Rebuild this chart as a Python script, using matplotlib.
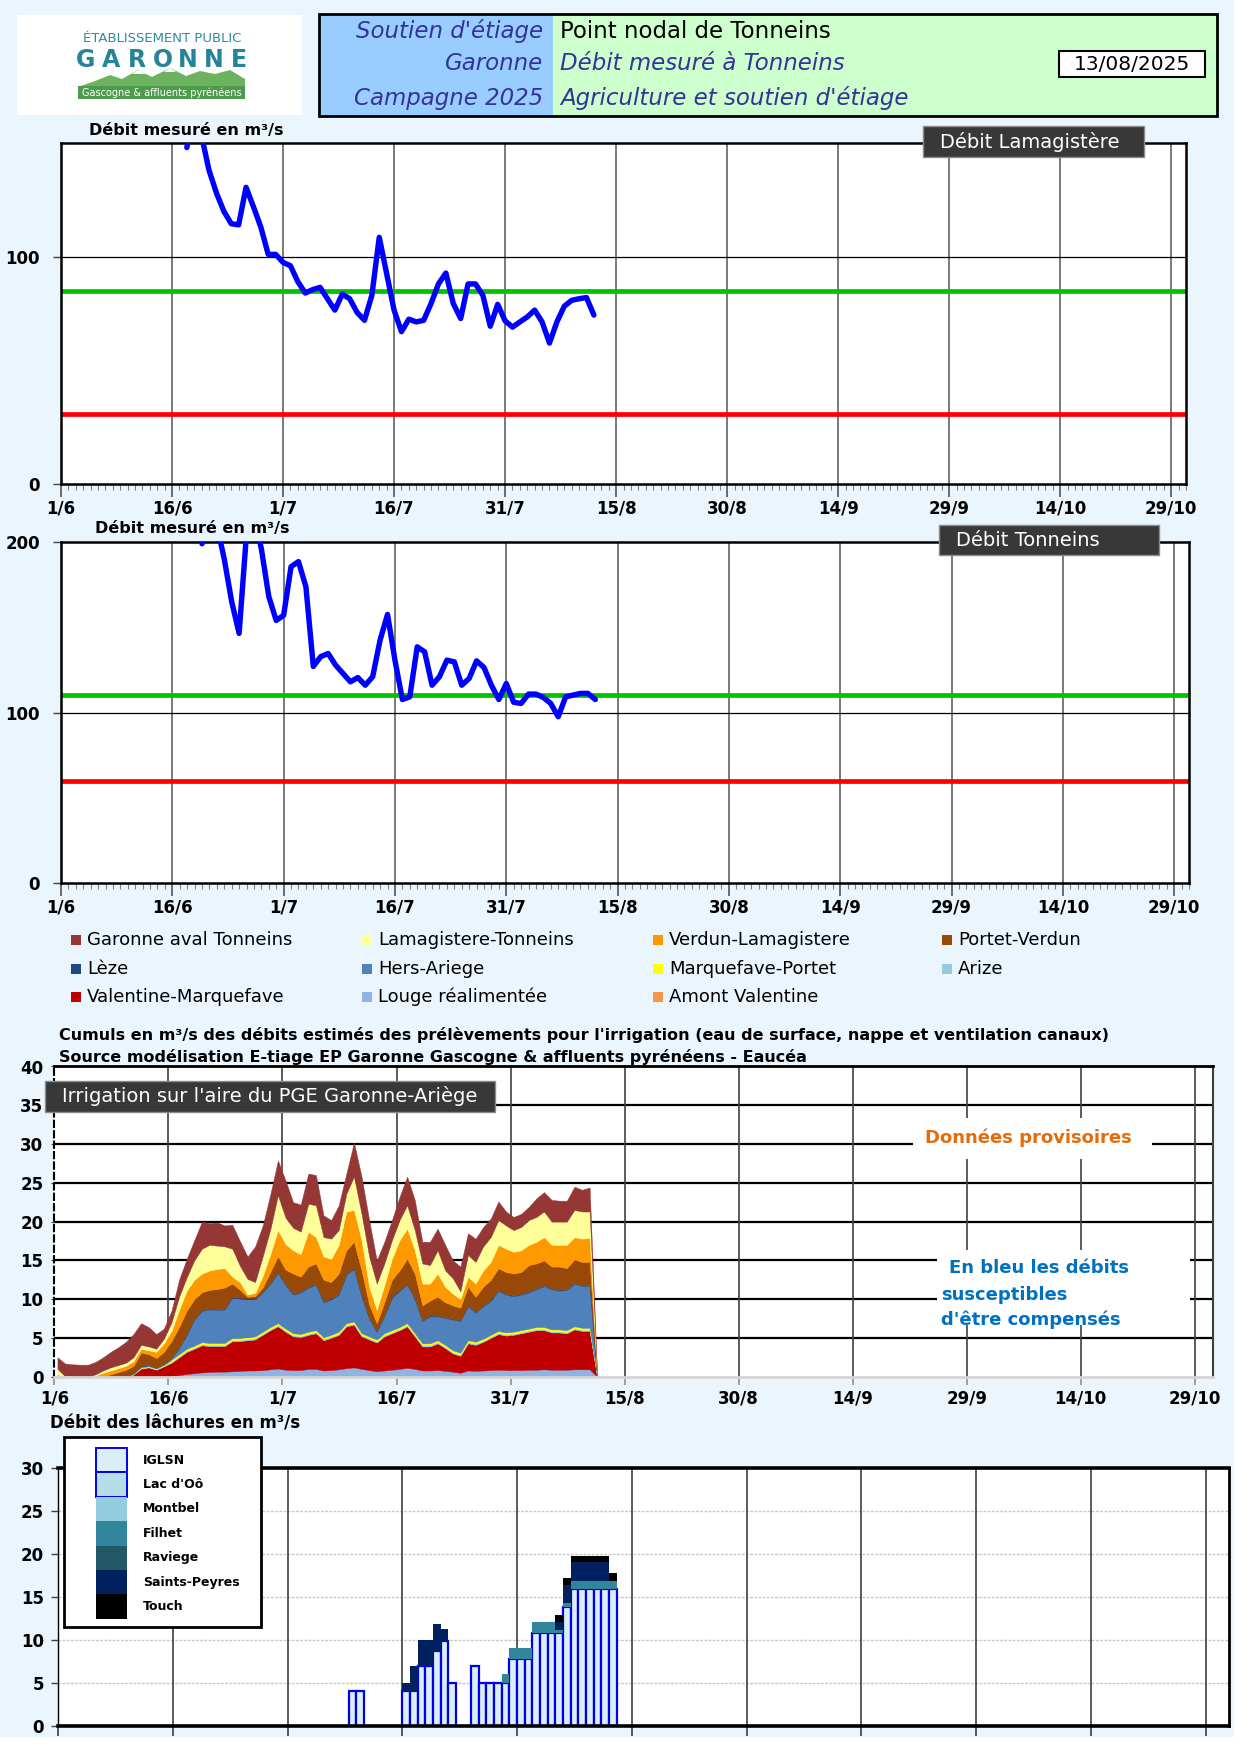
import numpy as np
import matplotlib
matplotlib.use('Agg')
import matplotlib.pyplot as plt
from matplotlib.patches import Rectangle, Polygon
from matplotlib.ticker import MultipleLocator

plt.rcParams['font.family'] = ['DejaVu Sans']

# ---------------------------------------------------------------- data
tick_labels = ['1/6', '16/6', '1/7', '16/7', '31/7', '15/8', '30/8', '14/9', '29/9', '14/10', '29/10']
tick_days = [0, 15, 30, 45, 60, 75, 90, 105, 120, 135, 150]

# Débit Lamagistère (day 0 = 1 June)
lama_days = list(range(17, 73))
lama_flow = [148, 165, 153, 138, 128, 120, 114.5, 114, 130.5, 122, 113, 101, 101, 97.5, 96, 89,
             84, 85.5, 86.5, 81.5, 76.5, 83.5, 81.5, 75.5, 72, 83, 108.5, 92.5, 76.5, 67, 72.5,
             71.3, 72, 79.4, 88, 92.8, 79.4, 72.8, 88, 88, 83, 69.4, 79, 71.8, 69, 71.3, 73.5,
             76.5, 71.3, 62, 71.3, 78.2, 80.8, 81.5, 82, 74.3]
lama_objectif = 85
lama_crise = 31

# Débit Tonneins
ton_days = list(range(19, 73))
ton_flow = [199, 212, 210, 190, 165, 146.4, 205, 215, 196, 168, 154, 157, 185.5, 188.5, 173.8,
            127, 132.8, 134.6, 127.8, 122.9, 118, 120.5, 116, 121, 142.5, 157.5, 130.7, 107.6,
            109.2, 138.5, 135.6, 116, 121, 130.7, 129.7, 116, 120, 130.3, 126.4, 116, 107.6, 117,
            106, 105.3, 110.8, 110.8, 108.8, 105.3, 97.5, 109.2, 110.2, 111.2, 111.2, 107.6]
ton_objectif = 110
ton_crise = 60

# Irrigation : cumulative tops of the stacked layers (m3/s), day 0..71
irr_days = list(range(0, 72))
top_garonne_aval = [2.5, 1.7, 1.6, 1.55, 1.55, 1.9, 2.5, 3.2, 3.8, 4.5, 5.5, 6.9,
                    6.4, 5.5, 6.2, 8.5, 12.5, 15.2, 17.6, 20.0, 19.8, 19.9, 19.5, 19.6,
                    17.5, 15.5, 16.8, 19.5, 23.5, 27.9, 25.3, 22.5, 22.2, 26.2, 26.0, 20.8,
                    20.2, 22.1, 26.2, 30.2, 25.8, 20.2, 15.0, 17.4, 20.2, 23.2, 25.8, 22.8,
                    17.4, 17.4, 19.1, 17.0, 15.0, 14.2, 18.5, 17.8, 19.3, 20.4, 22.6, 21.3,
                    20.6, 21.0, 21.9, 23.0, 23.8, 22.8, 22.7, 22.7, 24.5, 24.1, 24.4, 0]
top_lamagistere_tonneins = [1.0, 0.05, 0, 0, 0, 0.3, 0.8, 1.2, 1.5, 1.8, 2.5, 4.1,
                            3.9, 3.6, 4.9, 7.0, 10.3, 12.8, 15.0, 16.5, 17.0, 16.9, 16.8, 16.5,
                            14.3, 12.6, 12.2, 15.5, 19.0, 23.4, 20.5, 19.2, 18.7, 22.3, 22.1, 18.0,
                            17.8, 18.9, 23.6, 25.8, 21.0, 15.5, 12.0, 14.6, 17.6, 20.2, 22.1, 18.9,
                            14.6, 14.4, 16.3, 13.7, 12.7, 11.0, 15.7, 14.8, 16.8, 18.0, 20.2, 19.5,
                            18.9, 19.3, 20.2, 20.6, 21.3, 20.0, 20.0, 20.0, 21.5, 21.3, 21.3, 0]
top_verdun_lamagistere = [0.3, 0, 0, 0, 0, 0.15, 0.5, 0.8, 1.1, 1.4, 2.0, 3.6,
                          3.4, 3.2, 4.3, 5.9, 8.6, 11.1, 12.5, 13.3, 13.7, 13.9, 14.0, 12.9,
                          12.2, 10.6, 10.8, 13.0, 15.8, 18.9, 17.1, 16.3, 15.8, 18.7, 18.0, 15.5,
                          15.2, 17.0, 21.3, 21.5, 17.6, 11.6, 8.6, 11.8, 15.2, 17.6, 19.1, 16.3,
                          12.0, 12.0, 13.3, 11.6, 10.7, 10.0, 12.9, 12.0, 13.7, 14.8, 17.0, 16.5,
                          16.1, 16.3, 17.0, 17.4, 18.0, 17.0, 17.0, 17.0, 18.0, 17.8, 17.9, 0]
top_portet_verdun = [0, 0, 0, 0, 0, 0, 0.1, 0.3, 0.6, 0.9, 1.4, 3.1,
                     2.9, 2.4, 3.2, 4.6, 6.4, 8.5, 10.0, 10.9, 11.2, 11.3, 11.5, 12.0,
                     11.2, 10.3, 10.4, 11.5, 13.5, 15.5, 13.8, 13.3, 12.9, 14.2, 14.6, 12.5,
                     12.2, 13.3, 16.3, 17.4, 13.7, 9.3, 6.9, 9.6, 12.5, 13.7, 15.2, 13.3,
                     9.2, 9.8, 10.3, 9.6, 9.2, 8.9, 11.6, 10.3, 11.6, 12.5, 14.0, 13.5,
                     13.3, 13.5, 14.4, 14.6, 15.0, 14.2, 14.2, 14.0, 15.1, 14.8, 14.8, 0]
top_leze = [0, 0, 0, 0, 0, 0, 0, 0, 0, 0.05, 0.5, 1.4,
            1.5, 1.2, 1.7, 2.5, 3.8, 5.5, 7.5, 8.6, 8.8, 8.7, 8.8, 10.3,
            10.2, 10.1, 10.1, 11.0, 12.1, 13.5, 11.9, 10.7, 11.0, 11.6, 12.0, 9.7,
            10.1, 10.7, 13.3, 14.0, 10.5, 7.6, 5.9, 8.0, 10.3, 11.2, 12.0, 10.1,
            7.3, 7.9, 7.9, 7.7, 7.5, 7.3, 9.2, 8.4, 9.2, 9.9, 11.2, 10.7,
            10.5, 10.7, 11.0, 11.4, 11.8, 11.4, 11.2, 11.3, 12.1, 11.8, 11.8, 0]
top_marquefave_portet = [0, 0, 0, 0, 0, 0, 0, 0, 0, 0, 0.35, 1.2,
                         1.35, 1.05, 1.5, 2.2, 2.9, 3.6, 4.0, 4.45, 4.35, 4.35, 4.35, 5.0,
                         5.0, 5.1, 5.2, 5.8, 6.4, 6.9, 6.2, 5.6, 5.5, 5.8, 6.0, 5.1,
                         5.4, 5.8, 6.9, 7.1, 5.6, 5.2, 4.8, 5.6, 6.0, 6.4, 6.9, 5.6,
                         4.3, 4.3, 4.7, 4.1, 3.4, 3.1, 4.7, 4.5, 4.9, 5.4, 5.9, 5.7,
                         5.8, 6.0, 6.2, 6.4, 6.4, 6.1, 6.1, 6.0, 6.5, 6.3, 6.3, 0]
top_louge = [0, 0, 0, 0, 0, 0, 0, 0, 0, 0, 0, 0,
             0, 0, 0, 0.1, 0.2, 0.35, 0.45, 0.55, 0.6, 0.65, 0.65, 0.7,
             0.75, 0.8, 0.8, 0.85, 0.95, 1.05, 0.9, 0.85, 0.85, 1.0, 1.0, 0.8,
             0.85, 0.95, 1.1, 1.2, 1.0, 0.85, 0.7, 0.8, 0.9, 1.0, 1.15, 1.0,
             0.8, 0.8, 0.85, 0.75, 0.65, 0.5, 0.8, 0.75, 0.8, 0.85, 0.9, 0.85,
             0.85, 0.85, 0.9, 0.9, 0.95, 0.9, 0.9, 0.9, 0.95, 0.95, 0.95, 0]
# thin layers (thickness, m3/s)
marquefave_th = [0, 0, 0, 0, 0, 0, 0, 0, 0, 0, 0.05, 0.1,
                 0.1, 0.1, 0.1, 0.25, 0.25, 0.25, 0.25, 0.25, 0.25, 0.25, 0.25, 0.25,
                 0.25, 0.25, 0.25, 0.25, 0.25, 0.25, 0.25, 0.25, 0.25, 0.25, 0.25, 0.25,
                 0.25, 0.25, 0.25, 0.25, 0.25, 0.25, 0.25, 0.25, 0.25, 0.25, 0.25, 0.25,
                 0.25, 0.25, 0.25, 0.25, 0.25, 0.25, 0.25, 0.25, 0.25, 0.25, 0.25, 0.25,
                 0.25, 0.25, 0.25, 0.25, 0.25, 0.25, 0.25, 0.25, 0.25, 0.25, 0.25, 0]
arize_th = [0, 0, 0, 0, 0, 0, 0, 0, 0, 0, 0, 0.05,
            0.05, 0.05, 0.05, 0.15, 0.15, 0.15, 0.15, 0.15, 0.15, 0.15, 0.15, 0.15,
            0.15, 0.15, 0.15, 0.15, 0.15, 0.15, 0.15, 0.15, 0.15, 0.15, 0.15, 0.15,
            0.15, 0.15, 0.15, 0.15, 0.15, 0.15, 0.15, 0.15, 0.15, 0.15, 0.15, 0.15,
            0.15, 0.15, 0.15, 0.15, 0.15, 0.15, 0.15, 0.15, 0.15, 0.15, 0.15, 0.15,
            0.15, 0.15, 0.15, 0.15, 0.15, 0.15, 0.15, 0.15, 0.15, 0.15, 0.15, 0]
leze_th = [0, 0, 0, 0, 0, 0, 0, 0, 0, 0, 0.05, 0.05,
           0.05, 0.05, 0.05, 0.12, 0.12, 0.12, 0.12, 0.12, 0.12, 0.12, 0.12, 0.12,
           0.12, 0.12, 0.12, 0.12, 0.12, 0.12, 0.12, 0.12, 0.12, 0.12, 0.12, 0.12,
           0.12, 0.12, 0.12, 0.12, 0.12, 0.12, 0.12, 0.12, 0.12, 0.12, 0.12, 0.12,
           0.12, 0.12, 0.12, 0.12, 0.12, 0.12, 0.12, 0.12, 0.12, 0.12, 0.12, 0.12,
           0.12, 0.12, 0.12, 0.12, 0.12, 0.12, 0.12, 0.12, 0.12, 0.12, 0.12, 0]
amont_th = [0, 0, 0, 0, 0, 0, 0, 0, 0, 0, 0, 0,
            0, 0, 0, 0, 0, 0.08, 0.08, 0.08, 0.08, 0.08, 0.08, 0.08,
            0.08, 0.08, 0.08, 0.08, 0.08, 0.08, 0.08, 0.08, 0.08, 0.08, 0.08, 0.08,
            0.08, 0.08, 0.08, 0.08, 0.08, 0.08, 0.08, 0.08, 0.08, 0.08, 0.08, 0.08,
            0.08, 0.08, 0.08, 0.08, 0.08, 0.08, 0.08, 0.08, 0.08, 0.08, 0.08, 0.08,
            0.08, 0.08, 0.08, 0.08, 0.08, 0.08, 0.08, 0.08, 0.08, 0.08, 0.08, 0]

irr_names = ['Garonne aval Tonneins', 'Lamagistere-Tonneins', 'Verdun-Lamagistere', 'Portet-Verdun',
             'Lèze', 'Hers-Ariege', 'Marquefave-Portet', 'Arize',
             'Valentine-Marquefave', 'Louge réalimentée', 'Amont Valentine']
irr_colors = {'Garonne aval Tonneins': '#953735', 'Lamagistere-Tonneins': '#FFFF99',
              'Verdun-Lamagistere': '#FF9900', 'Portet-Verdun': '#984807',
              'Lèze': '#1F497D', 'Hers-Ariege': '#4F81BD', 'Marquefave-Portet': '#FFFF00',
              'Arize': '#93CDDD', 'Valentine-Marquefave': '#C00000',
              'Louge réalimentée': '#8DB4E2', 'Amont Valentine': '#F79646'}

# Lâchures (m3/s), day 38..72
rel_days = list(range(38, 73))
rel_iglsn = [4, 4, 0, 0, 0, 0, 0, 4, 4, 7, 7, 8.7, 9.9, 5, 0, 0, 7, 5, 5, 5, 5, 7.8, 7.8, 7.8,
             10.8, 10.8, 10.8, 10.8, 13.8, 15.9, 15.9, 15.9, 15.9, 15.9, 15.9]
rel_lac_oo = [0, 0, 0, 0, 0, 0, 0, 0, 0, 0, 0, 0, 0, 0, 0, 0, 0, 0, 0, 0, 0, 0, 0, 0,
              0, 0, 0, 0, 0, 0, 0, 0, 0, 0, 0]
rel_montbel = [0, 0, 0, 0, 0, 0, 0, 0, 0, 0, 0, 0, 0, 0, 0, 0, 0, 0, 0, 0, 0, 0, 0, 0,
               0, 0, 0, 0, 0, 0, 0, 0, 0, 0, 0]
rel_filhet = [0, 0, 0, 0, 0, 0, 0, 0, 0, 0, 0, 0, 0, 0, 0, 0, 0, 0, 0, 0, 1.0, 1.3, 1.3, 1.3,
              1.3, 1.3, 1.3, 0.3, 0.45, 1.0, 1.0, 1.0, 1.0, 1.0, 1.0]
rel_raviege = [0, 0, 0, 0, 0, 0, 0, 0, 0, 0, 0, 0, 0, 0, 0, 0, 0, 0, 0, 0, 0, 0, 0, 0,
               0, 0, 0, 0, 0, 0, 0, 0, 0, 0, 0]
rel_saints_peyres = [0, 0, 0, 0, 0, 0, 0, 1.0, 3.0, 3.0, 3.0, 3.1, 1.35, 0, 0, 0, 0, 0, 0, 0,
                     0, 0, 0, 0, 0, 0, 0, 1.0, 2.15, 2.1, 2.1, 2.1, 2.1, 2.1, 0]
rel_touch = [0, 0, 0, 0, 0, 0, 0, 0, 0, 0, 0, 0, 0, 0, 0, 0, 0, 0, 0, 0, 0, 0, 0, 0,
             0, 0, 0, 0.75, 0.75, 0.75, 0.75, 0.75, 0.75, 0.75, 0.85]
rel_names = ['IGLSN', "Lac d'Oô", 'Montbel', 'Filhet', 'Raviege', 'Saints-Peyres', 'Touch']
rel_colors = ['#DCEEF5', '#B7DDE8', '#93CDDD', '#31859C', '#215967', '#002060', '#000000']

# ---------------------------------------------------------------- figure
W, H = 1240, 1754
fig = plt.figure(figsize=(W / 100, H / 100), dpi=100)
fig.patch.set_facecolor('white')
BG = '#EAF5FD'
fig.patches.append(Rectangle((0, 1 - 1737 / H), 1234 / W, 1737 / H, transform=fig.transFigure,
                             facecolor=BG, edgecolor='none', zorder=-10))


def px_axes(l, t, r, b):
    return fig.add_axes([l / W, 1 - b / H, (r - l) / W, (b - t) / H])


def flow_panel(ax, days, flow, obj, crise, ymax, yticks):
    ax.set_xlim(0, 152)
    ax.set_ylim(0, ymax)
    ax.set_facecolor('white')
    for d in tick_days:
        ax.axvline(d, color='#555555', lw=1.1, zorder=1)
    ax.axhline(100, color='black', lw=0.9, zorder=1)
    ax.axhline(obj, color='#00C400', lw=3.4, zorder=2)
    ax.axhline(crise, color='#FF0000', lw=3.4, zorder=2)
    ax.plot(days, flow, color='#0000FF', lw=3.9, solid_joinstyle='round',
            solid_capstyle='round', zorder=3)
    ax.set_xticks(tick_days, tick_labels, fontsize=12, fontweight='bold')
    ax.xaxis.set_minor_locator(MultipleLocator(1))
    ax.tick_params(axis='x', which='major', direction='out', length=9, width=1.3,
                   color='#606060', pad=2)
    ax.tick_params(axis='x', which='minor', direction='out', length=4, width=0.8,
                   color='#808080')
    ax.set_yticks(yticks, [str(v) for v in yticks], fontsize=12, fontweight='bold')
    ax.tick_params(axis='y', direction='out', length=6, width=1, color='#404040', pad=9)
    for s in ax.spines.values():
        s.set_color('black')
        s.set_linewidth(1.8)


ax1 = px_axes(61, 143, 1186, 484)
flow_panel(ax1, lama_days, lama_flow, lama_objectif, lama_crise, 150, [0, 100])

ax2 = px_axes(61, 542, 1189, 883)
flow_panel(ax2, ton_days, ton_flow, ton_objectif, ton_crise, 200, [0, 100, 200])

# ---------------- irrigation stacked areas
ax3 = px_axes(54.4, 1066.5, 1213, 1376.7)
ax3.set_xlim(0, 152.4)
ax3.set_ylim(0, 40)
ax3.set_facecolor('white')
for v in range(5, 40, 5):
    ax3.axhline(v, color='black', lw=1.6, zorder=0.5)
for d in tick_days[1:]:
    ax3.axvline(d, color='#404040', lw=1.2, zorder=0.5)

xi = np.asarray(irr_days, float) + 0.4
T = np.asarray(top_garonne_aval, float)
LY = np.asarray(top_lamagistere_tonneins, float)
OR = np.asarray(top_verdun_lamagistere, float)
BR = np.asarray(top_portet_verdun, float)
SB = np.asarray(top_leze, float)
YE = np.asarray(top_marquefave_portet, float)
LB = np.asarray(top_louge, float)
AV = np.asarray(amont_th, float)
AR_top = YE - np.asarray(marquefave_th, float)
RD = AR_top - np.asarray(arize_th, float)
HA = SB - np.asarray(leze_th, float)
zero = np.zeros_like(T)
bands = [(zero, AV, 'Amont Valentine'), (AV, LB, 'Louge réalimentée'),
         (LB, RD, 'Valentine-Marquefave'), (RD, AR_top, 'Arize'),
         (AR_top, YE, 'Marquefave-Portet'), (YE, HA, 'Hers-Ariege'), (HA, SB, 'Lèze'),
         (SB, BR, 'Portet-Verdun'), (BR, OR, 'Verdun-Lamagistere'),
         (OR, LY, 'Lamagistere-Tonneins'), (LY, T, 'Garonne aval Tonneins')]
for lo, hi, name in bands:
    c = irr_colors[name]
    ax3.fill_between(xi, lo, np.maximum(hi, lo), facecolor=c, edgecolor=c, lw=0.3, zorder=2)

ax3.set_xticks(tick_days, tick_labels, fontsize=12, fontweight='bold')
ax3.tick_params(axis='x', direction='out', length=6, width=1.2, color='#909090', pad=3)
ax3.set_yticks(range(0, 41, 5), [str(v) for v in range(0, 41, 5)], fontsize=12, fontweight='bold')
ax3.tick_params(axis='y', direction='out', length=2, width=0.8, color='#404040', pad=6)
ax3.spines['top'].set_color('black')
ax3.spines['top'].set_linewidth(2)
ax3.spines['right'].set_color('#404040')
ax3.spines['right'].set_linewidth(1.5)
ax3.spines['bottom'].set_color('#D5D5D5')
ax3.spines['bottom'].set_linewidth(2)
ax3.spines['left'].set_color('black')
ax3.spines['left'].set_linewidth(1.5)
ax3.spines['left'].set_linestyle((0, (3, 2)))

# ---------------- releases bars
ax4 = px_axes(58, 1468, 1228.6, 1725.7)
ax4.set_xlim(0, 153)
ax4.set_ylim(0, 30)
ax4.set_facecolor('white')
for v in range(5, 30, 5):
    ax4.axhline(v, color='#C8C8C8', lw=1.0, ls=(0, (2, 1)), zorder=0.5)
for d in tick_days[1:]:
    ax4.axvline(d, color='#404040', lw=1.2, zorder=0.5)
rel_series = [rel_iglsn, rel_lac_oo, rel_montbel, rel_filhet, rel_raviege, rel_saints_peyres, rel_touch]
rd = np.asarray(rel_days, float)
bottom = np.zeros(len(rel_days))
for name, vals, col in zip(rel_names, rel_series, rel_colors):
    v = np.asarray(vals, float)
    m = v > 0
    if m.any():
        if name == 'IGLSN':
            ax4.bar(rd[m], v[m], width=1, align='edge', bottom=bottom[m], color=col,
                    edgecolor='#0000EE', linewidth=1.6, zorder=2)
        else:
            ax4.bar(rd[m], v[m], width=1, align='edge', bottom=bottom[m], color=col,
                    edgecolor='none', linewidth=0, zorder=2)
    bottom = bottom + v
ax4.set_xticks(tick_days)
ax4.set_xticklabels([])
ax4.tick_params(axis='x', direction='out', length=7, width=1.2, color='#404040')
ax4.set_yticks(range(0, 31, 5), [str(v) for v in range(0, 31, 5)], fontsize=12, fontweight='bold')
ax4.tick_params(axis='y', direction='out', length=5, width=1, color='#404040', pad=5)
for k, lw in [('top', 2.6), ('bottom', 2.6), ('right', 2), ('left', 1)]:
    ax4.spines[k].set_color('black')
    ax4.spines[k].set_linewidth(lw)

# ---------------------------------------------------------------- overlay (pixel coords)
ov = fig.add_axes([0, 0, 1, 1], zorder=20)
ov.set_xlim(0, W)
ov.set_ylim(H, 0)
ov.axis('off')

# logo
ov.add_patch(Rectangle((17, 15), 285, 100, facecolor='white', edgecolor='none'))
ov.text(162, 38, 'ÉTABLISSEMENT PUBLIC', ha='center', va='center', fontsize=9.5,
        color='#2C8C9C')
for i, ch in enumerate('GARONNE'):
    ov.text(86 + i * 25.5, 60, ch, ha='center', va='center', fontsize=17, fontweight='bold',
            color='#24849A')
ov.add_patch(Polygon([(78, 87), (95, 81), (110, 75), (122, 79), (138, 70), (152, 77), (170, 68),
                      (186, 76), (200, 71), (215, 74), (230, 70), (245, 79), (245, 87)],
                     closed=True, facecolor='#6DB35F', edgecolor='none'))
ov.add_patch(Polygon([(132, 74), (138, 70), (146, 74)], closed=True, facecolor='white', edgecolor='none'))
ov.add_patch(Polygon([(164, 72), (170, 68), (176, 72)], closed=True, facecolor='white', edgecolor='none'))
ov.add_patch(Rectangle((78, 86), 167, 13, facecolor='#4E9B4B', edgecolor='none'))
ov.text(161.5, 92.5, 'Gascogne & affluents pyrénéens', ha='center', va='center', fontsize=7,
        color='white')

# header boxes
ov.add_patch(Rectangle((319, 14), 234, 102, facecolor='#99CCFF', edgecolor='none'))
ov.add_patch(Rectangle((553, 14), 664, 102, facecolor='#CCFFCC', edgecolor='none'))
ov.add_patch(Rectangle((319, 14), 898, 102, facecolor='none', edgecolor='black', lw=2))
hc = '#333399'
ov.text(543, 31, "Soutien d'étiage", ha='right', va='center', fontsize=16.5, style='italic', color=hc)
ov.text(543, 63, 'Garonne', ha='right', va='center', fontsize=16.5, style='italic', color=hc)
ov.text(543, 98, 'Campagne 2025', ha='right', va='center', fontsize=16.5, style='italic', color=hc)
ov.text(560, 31, 'Point nodal de Tonneins', ha='left', va='center', fontsize=16.5, color='black')
ov.text(560, 63, 'Débit mesuré à Tonneins', ha='left', va='center', fontsize=16.5, style='italic', color=hc)
ov.text(560, 98, "Agriculture et soutien d'étiage", ha='left', va='center', fontsize=16.5,
        style='italic', color=hc)
ov.add_patch(Rectangle((1059, 51), 146, 26, facecolor='white', edgecolor='black', lw=1.5))
ov.text(1132, 64, '13/08/2025', ha='center', va='center', fontsize=14.5, color='black')


def title_box(x0, y0, x1, y1, text, tx, fs):
    ov.add_patch(Rectangle((x0, y0), x1 - x0, y1 - y0, facecolor='#383838', edgecolor='#8A8A8A', lw=1))
    ov.text(tx, (y0 + y1) / 2, text, color='white', fontsize=fs, ha='left', va='center')


title_box(923, 126, 1144, 157, 'Débit Lamagistère', 940, 14)
title_box(939, 525, 1159, 555, 'Débit Tonneins', 956, 14)
title_box(45, 1081, 495, 1112, "Irrigation sur l'aire du PGE Garonne-Ariège", 62, 14)

lab = dict(fontsize=11.5, fontweight='bold', color='black', va='center', ha='left')
ov.text(89, 130, 'Débit mesuré en m³/s', **lab)
ov.text(95, 529, 'Débit mesuré en m³/s', **lab)
ov.text(59, 1035, "Cumuls en m³/s des débits estimés des prélèvements pour l'irrigation "
        "(eau de surface, nappe et ventilation canaux)", **lab)
ov.text(59, 1057, 'Source modélisation E-tiage EP Garonne Gascogne & affluents pyrénéens - Eaucéa', **lab)
ov.text(50, 1423, 'Débit des lâchures en m³/s', fontsize=12, fontweight='bold', va='center', ha='left')

# irrigation legend
col_x = [71, 362, 653, 942]
row_y = [940, 969, 997]
for i, name in enumerate(irr_names):
    cx, cy = col_x[i % 4], row_y[i // 4]
    ov.add_patch(Rectangle((cx, cy - 5), 10, 10, facecolor=irr_colors[name], edgecolor='none'))
    ov.text(cx + 16, cy, name, fontsize=13, va='center', ha='left', color='black')

# annotation boxes
ov.add_patch(Rectangle((913, 1118), 239, 41, facecolor='white', edgecolor='none'))
ov.text(925, 1138, 'Données provisoires', fontsize=13, fontweight='bold', color='#E46C0A',
        ha='left', va='center')
ov.add_patch(Rectangle((937, 1250), 253, 75, facecolor='white', edgecolor='none'))
bc = '#0070C0'
ov.text(949, 1268, 'En bleu les débits', fontsize=13, fontweight='bold', color=bc, ha='left', va='center')
ov.text(941, 1295, 'susceptibles', fontsize=13, fontweight='bold', color=bc, ha='left', va='center')
ov.text(941, 1320, "d'être compensés", fontsize=13, fontweight='bold', color=bc, ha='left', va='center')

# releases legend
ov.add_patch(Rectangle((64, 1437), 197, 190, facecolor='white', edgecolor='black', lw=2))
for i, (name, col) in enumerate(zip(rel_names, rel_colors)):
    y0 = 1448 + i * 24.4
    ec = '#0000EE' if i < 2 else 'none'
    ov.add_patch(Rectangle((96, y0), 30.5, 24.4, facecolor=col, edgecolor=ec, lw=1.4))
    ov.text(143, y0 + 12.2, name, fontsize=9, fontweight='bold', ha='left', va='center')

fig.savefig('out.png', dpi=100, facecolor=fig.get_facecolor())
